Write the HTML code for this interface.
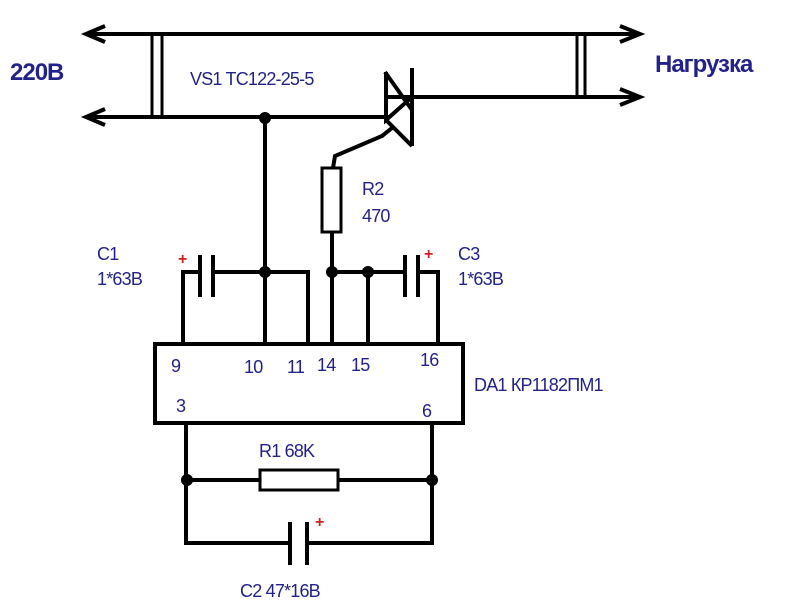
<!DOCTYPE html>
<html><head><meta charset="utf-8"><style>
html,body{margin:0;padding:0;background:#fff;width:800px;height:605px;overflow:hidden}
text{font-family:"Liberation Sans",sans-serif;fill:#22228a}
</style></head><body>
<svg width="800" height="605" viewBox="0 0 800 605" xmlns="http://www.w3.org/2000/svg">
<g stroke="#000" stroke-width="4" fill="none" stroke-linejoin="miter">
<line x1="88" y1="34" x2="638" y2="34"/>
<line x1="88" y1="117" x2="390" y2="117"/>
<line x1="412" y1="97" x2="638" y2="97"/>
<polyline points="105,26 86,34 105,42"/>
<polyline points="105,109 86,117 105,125"/>
<polyline points="620,26 640,34 620,42"/>
<polyline points="620,89 640,97 620,105"/>
<rect x="152" y="34" width="10" height="83" stroke-width="3"/>
<rect x="577" y="34" width="8" height="63" stroke-width="3"/>
<!-- triac -->
<line x1="412" y1="68" x2="412" y2="146"/>
<polyline points="385,72 412,110"/>
<polyline points="386,97 412,97"/>
<polyline points="386,72 386,120 412,97"/>
<polyline points="386,120 412,146"/>
<polyline points="392,128 382,136 335,156 333,168"/>
<rect x="322" y="168" width="19" height="64" stroke-width="3"/>
<line x1="332" y1="232" x2="332" y2="343"/>
<line x1="265" y1="117" x2="265" y2="343"/>
<polyline points="183,343 183,272 200,272"/>
<line x1="200" y1="255" x2="200" y2="297"/>
<line x1="213" y1="255" x2="213" y2="297"/>
<polyline points="213,272 308,272 308,343"/>
<line x1="332" y1="272" x2="405" y2="272"/>
<line x1="368" y1="272" x2="368" y2="343"/>
<line x1="405" y1="255" x2="405" y2="297"/>
<line x1="418" y1="255" x2="418" y2="297"/>
<polyline points="418,272 438,272 438,343"/>
<rect x="155" y="344" width="308" height="79"/>
<polyline points="186,423 186,543 290,543"/>
<polyline points="307,543 432,543 432,423"/>
<line x1="290" y1="522" x2="290" y2="565"/>
<line x1="307" y1="522" x2="307" y2="565"/>
<line x1="186" y1="480" x2="260" y2="480"/>
<line x1="338" y1="480" x2="432" y2="480"/>
<rect x="260" y="470" width="78" height="20" stroke-width="3"/>
</g>
<g fill="#000">
<circle cx="265" cy="118" r="6"/>
<circle cx="265" cy="272" r="6"/>
<circle cx="332" cy="272" r="6"/>
<circle cx="368" cy="272" r="6"/>
<circle cx="187" cy="480" r="6"/>
<circle cx="432" cy="480" r="6"/>
</g>
<g font-size="16" font-weight="bold">
<text x="178" y="264" style="fill:#d02020">+</text>
<text x="424" y="259" style="fill:#d02020">+</text>
<text x="315" y="527" style="fill:#d02020">+</text>
</g>
<text x="10" y="80" font-size="24" font-weight="bold" letter-spacing="-1">220В</text>
<text x="655" y="72" font-size="24" font-weight="bold" letter-spacing="-1">Нагрузка</text>
<g font-size="18" letter-spacing="-0.8">
<text x="190" y="85">VS1 TC122-25-5</text>
<text x="362" y="195">R2</text>
<text x="362" y="222">470</text>
<text x="97" y="260">C1</text>
<text x="97" y="285">1*63В</text>
<text x="458" y="260">C3</text>
<text x="458" y="285">1*63В</text>
<text x="171" y="372">9</text>
<text x="244" y="373">10</text>
<text x="287" y="373">11</text>
<text x="317" y="371">14</text>
<text x="351" y="371">15</text>
<text x="420" y="366">16</text>
<text x="176" y="412">3</text>
<text x="422" y="417">6</text>
<text x="474" y="391">DA1 КР1182ПМ1</text>
<text x="259" y="457">R1 68K</text>
<text x="240" y="597">C2 47*16В</text>
</g>
</svg>
</body></html>
